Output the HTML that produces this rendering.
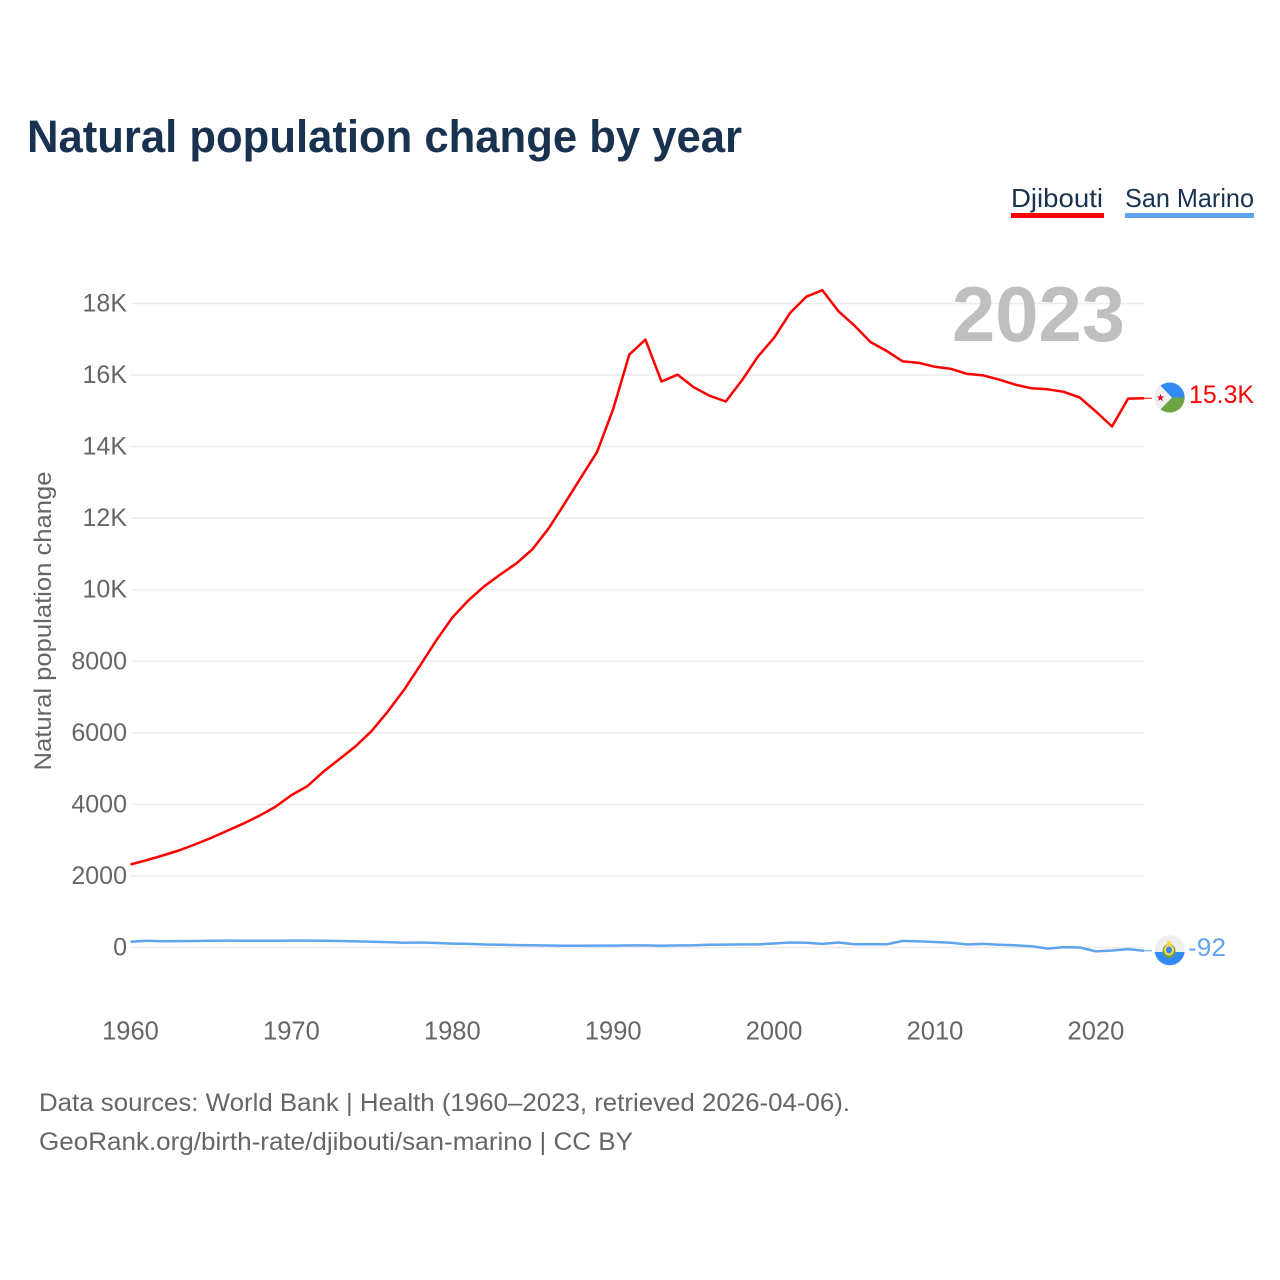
<!DOCTYPE html>
<html lang="en">
<head>
<meta charset="utf-8">
<title>Natural population change by year</title>
<style>
html,body{margin:0;padding:0;background:#fff}
svg{display:block;font-family:"Liberation Sans",sans-serif}
</style>
</head>
<body>
<svg id="chart" width="1280" height="1280" viewBox="0 0 1280 1280">
  <text x="27" y="152" font-size="45" font-weight="700" fill="#18324f" textLength="715" lengthAdjust="spacingAndGlyphs">Natural population change by year</text>
  <g>
    <g>
      <text x="1011" y="207" font-size="26" fill="#18324f" textLength="92" lengthAdjust="spacingAndGlyphs">Djibouti</text>
      <rect x="1011" y="213" width="93" height="5" fill="#ff0000"/>
    </g>
    <g>
      <text x="1125" y="207" font-size="26" fill="#18324f" textLength="129" lengthAdjust="spacingAndGlyphs">San Marino</text>
      <rect x="1125" y="213" width="129" height="5" fill="#5ea5ee"/>
    </g>
  </g>
  <g id="grid"></g>
  <text x="1125" y="341" text-anchor="end" font-size="78" font-weight="700" fill="#bfbfbf" textLength="173" lengthAdjust="spacingAndGlyphs">2023</text>
  <g id="yticks"></g>
  <g id="xticks"></g>
  <text transform="translate(51,621) rotate(-90)" text-anchor="middle" font-size="24" fill="#666666" textLength="299" lengthAdjust="spacingAndGlyphs">Natural population change</text>
  <g id="series"></g>

  <g>
    <clipPath id="clip-dj"><circle cx="1169.7" cy="397.5" r="15"/></clipPath>
    <g clip-path="url(#clip-dj)">
      <rect x="1154" y="382" width="31" height="15.5" fill="#338af3"/>
      <rect x="1154" y="397.5" width="31" height="15.5" fill="#6da544"/>
      <polygon points="1154,379 1172,397.5 1154,416" fill="#f0f0f0"/>
    </g>
    <text x="1160.5" y="401" text-anchor="middle" font-size="10" fill="#d80027">★</text>
  </g>
  <text x="1189" y="403" font-size="25" fill="#ff0000" textLength="65" lengthAdjust="spacingAndGlyphs">15.3K</text>

  <g>
    <clipPath id="clip-sm"><circle cx="1169.7" cy="950.3" r="15"/></clipPath>
    <g clip-path="url(#clip-sm)">
      <rect x="1154" y="935" width="31" height="17" fill="#eeeeee"/>
      <rect x="1154" y="952" width="31" height="15" fill="#338af3"/>
    </g>
    <ellipse cx="1169" cy="951" rx="6.5" ry="7" fill="#6da544"/>
    <ellipse cx="1169" cy="950" rx="5" ry="5.5" fill="#ffda44"/>
    <ellipse cx="1169" cy="950" rx="3" ry="3.5" fill="#338af3"/>
    <rect x="1167" y="941" width="4" height="4.5" fill="#ffda44"/>
  </g>
  <text x="1188" y="956" font-size="25" fill="#5ea5ee" textLength="38" lengthAdjust="spacingAndGlyphs">-92</text>

  <text x="39" y="1111" font-size="25" fill="#666666" textLength="811" lengthAdjust="spacingAndGlyphs">Data sources: World Bank | Health (1960–2023, retrieved 2026-04-06).</text>
  <text x="39" y="1150" font-size="25" fill="#666666" textLength="594" lengthAdjust="spacingAndGlyphs">GeoRank.org/birth-rate/djibouti/san-marino | CC BY</text>
</svg>
<script>
const years = [1960,1961,1962,1963,1964,1965,1966,1967,1968,1969,1970,1971,1972,1973,1974,1975,1976,1977,1978,1979,1980,1981,1982,1983,1984,1985,1986,1987,1988,1989,1990,1991,1992,1993,1994,1995,1996,1997,1998,1999,2000,2001,2002,2003,2004,2005,2006,2007,2008,2009,2010,2011,2012,2013,2014,2015,2016,2017,2018,2019,2020,2021,2022,2023];
const djibouti = [2320,2440,2570,2710,2880,3060,3260,3460,3680,3930,4260,4510,4920,5270,5630,6060,6600,7200,7880,8580,9220,9700,10100,10430,10740,11140,11720,12420,13140,13850,15050,16570,16990,15820,16010,15660,15420,15260,15850,16520,17040,17740,18190,18370,17780,17380,16920,16670,16380,16340,16230,16170,16030,15990,15870,15730,15630,15600,15530,15370,14980,14560,15340,15350];
const sanMarino = [160,190,175,178,182,188,192,190,188,190,192,192,190,182,170,160,150,135,140,125,110,100,85,78,68,65,55,48,48,52,54,58,58,50,58,62,76,82,86,88,112,140,130,100,140,90,96,90,185,170,155,135,85,100,78,62,36,-30,10,0,-110,-85,-45,-92];
const yTickValues = [0,2000,4000,6000,8000,10000,12000,14000,16000,18000];
const yTickLabels = ["0","2000","4000","6000","8000","10K","12K","14K","16K","18K"];
const xTickValues = [1960,1970,1980,1990,2000,2010,2020];

const SVGNS = "http://www.w3.org/2000/svg";
const xScale = function (year) { return 130.5 + (year - 1960) * 16.09; };
const yScale = function (value) { return 947.5 - value * 0.03578; };

function make(tag, attrs, parent) {
  const el = document.createElementNS(SVGNS, tag);
  Object.keys(attrs).forEach(function (k) { el.setAttribute(k, attrs[k]); });
  parent.appendChild(el);
  return el;
}

const grid = document.getElementById("grid");
const yticks = document.getElementById("yticks");
yTickValues.forEach(function (v, i) {
  const line = make("line", {x1: 131, x2: 1144, y1: yScale(v), y2: yScale(v), stroke: "#ececec", "stroke-width": 1.5}, grid);
  
  
  const label = make("text", {x: 127, y: yScale(v) + 8, "text-anchor": "end", "font-size": 25, fill: "#666666"}, yticks);
  
  
  label.textContent = yTickLabels[i];
});

const xticks = document.getElementById("xticks");
xTickValues.forEach(function (v) {
  const label = make("text", {x: xScale(v), y: 1039.5, "text-anchor": "middle", "font-size": 25.5, fill: "#666666"}, xticks);
  
  
  label.textContent = v;
});

function linePoints(values) {
  return values.map(function (v, i) {
    return xScale(years[i]).toFixed(1) + "," + yScale(v).toFixed(1);
  }).join(" ");
}

const seriesGroup = document.getElementById("series");

const djLine = make("polyline", {points: linePoints(djibouti), fill: "none", stroke: "#ff0000", "stroke-width": 2.5, "stroke-linejoin": "round"}, seriesGroup);



const smLine = make("polyline", {points: linePoints(sanMarino), fill: "none", stroke: "#5ea5ee", "stroke-width": 2.5, "stroke-linejoin": "round"}, seriesGroup);



const djLast = yScale(djibouti[djibouti.length - 1]);
const djConnector = make("line", {x1: xScale(2023), x2: 1152, y1: djLast, y2: djLast, stroke: "#ff0000", "stroke-width": 1}, seriesGroup);



const smLast = yScale(sanMarino[sanMarino.length - 1]);
const smConnector = make("line", {x1: xScale(2023), x2: 1152, y1: smLast, y2: smLast, stroke: "#5ea5ee", "stroke-width": 1}, seriesGroup);


</script>
</body>
</html>
